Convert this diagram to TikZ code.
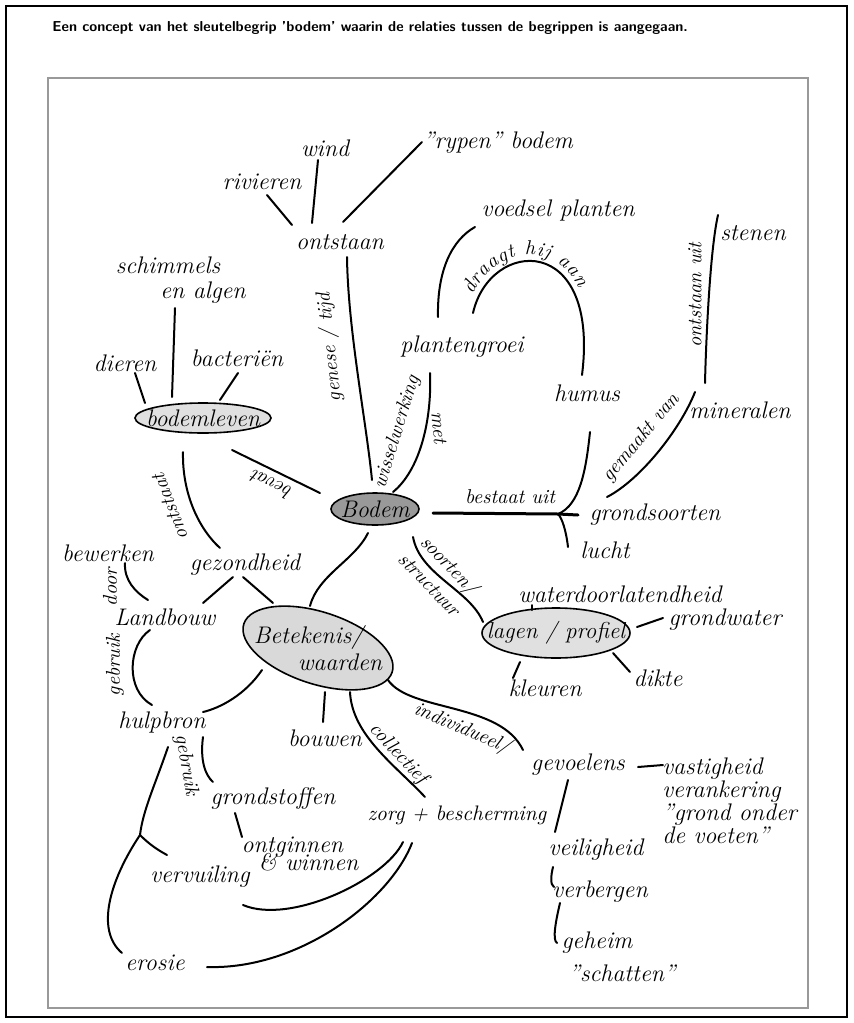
\documentclass[tikz,border=0pt]{standalone}
\usetikzlibrary{decorations.text}
\begin{document}
\begin{tikzpicture}[x=0.5pt,y=-0.5pt,
  w/.style={font=\fontsize{12}{11.5}\selectfont\itshape,inner sep=1pt},
  lbl/.style={font=\fontsize{10}{10}\selectfont\itshape,inner sep=0pt},
  bub/.style={line width=.8pt},
  con/.style={line width=1pt,line cap=round}]
\useasboundingbox (0,0) rectangle (853,1023);
\draw[line width=.6pt] (6,6) rectangle (847,1017);
\draw[black!40,line width=1pt] (48,78) rectangle (808,1008);
\node[anchor=west,inner sep=0pt,font=\fontsize{7.2}{8}\selectfont\sffamily\bfseries] (title) at (52,28) {Een concept van het sleutelbegrip 'bodem' waarin de relaties tussen de begrippen is aangegaan.};

\filldraw[bub,fill=black!12] (203,418) ellipse [x radius=68,y radius=15];
\filldraw[bub,fill=black!40] (375,509) ellipse [x radius=44,y radius=16];
\filldraw[bub,fill=black!15,rotate around={-18:(318,648)}] (318,648) ellipse [x radius=78,y radius=36];
\filldraw[bub,fill=black!12] (556,633) ellipse [x radius=74,y radius=25];

\node[w] (rypen) at (498,143) {"rypen" bodem};
\node[w] (wind) at (325,148) {wind};
\node[w] (rivieren) at (262,182) {rivieren};
\node[w] (ontstaan) at (340,242) {ontstaan};
\node[w] (voedsel) at (558,210) {voedsel planten};
\node[w] (stenen) at (753,233) {stenen};
\node[w,align=center] (schimmels) at (168,280) {schimmels\\[1pt]\hspace*{35pt}en algen};
\node[w] (plantengroei) at (462,347) {plantengroei};
\node[w] (humus) at (587,393) {humus};
\node[w] (mineralen) at (740,410) {mineralen};
\node[w] (dieren) at (125,363) {dieren};
\node[w] (bacterien) at (237,358) {bacteriën};
\node[w] (bodemleven) at (203,418) {bodemleven};
\node[w] (Bodem) at (375,509) {Bodem};
\node[w] (grondsoorten) at (655,515) {grondsoorten};
\node[w] (lucht) at (605,550) {lucht};
\node[w] (gezondheid) at (245,565) {gezondheid};
\node[w] (bewerken) at (108,553) {bewerken};
\node[w] (Landbouw) at (165,617) {Landbouw};
\node[w,align=left] (Betekenis) at (318,648) {Betekenis/\\[2pt]\hspace*{22pt}waarden};
\node[w,font=\fontsize{11.5}{11.5}\selectfont\itshape] (lagen) at (556,633) {lagen / profiel};
\node[w] (water) at (620,594) {waterdoorlatendheid};
\node[w] (grondwater) at (725,620) {grondwater};
\node[w] (dikte) at (658,678) {dikte};
\node[w] (kleuren) at (545,688) {kleuren};
\node[w] (hulpbron) at (162,722) {hulpbron};
\node[w] (bouwen) at (325,738) {bouwen};
\node[w] (gevoelens) at (578,765) {gevoelens};
\node[w,align=left,anchor=north west] (vast) at (660,755) {vastigheid\\verankering\\"grond onder\\de voeten"};
\node[w,font=\fontsize{10.5}{11}\selectfont\itshape] (zorg) at (457,815) {zorg + bescherming};
\node[w] (grondstoffen) at (273,798) {grondstoffen};
\node[w,align=left] (ontginnen) at (300,854) {ontginnen\\[-2.5pt]\hspace*{8.5pt}\& winnen};
\node[w] (vervuiling) at (200,877) {vervuiling};
\node[w] (veiligheid) at (596,850) {veiligheid};
\node[w] (verbergen) at (600,892) {verbergen};
\node[w] (geheim) at (597,943) {geheim};
\node[w] (schatten) at (622,973) {"schatten"};
\node[w] (erosie) at (155,963) {erosie};

\node[lbl,rotate=96] (genese) at (330,347) {genese / tijd};
\node[lbl,rotate=73] (wissel) at (397,432) {wisselwerking};
\node[lbl,rotate=-85] (met) at (439,428) {met};
\node[lbl,rotate=154] (bevat) at (271,485) {bevat};
\node[lbl,rotate=111] (ontstaat) at (170,507) {ontstaat};
\node[lbl] (bestaat) at (510,497) {bestaat uit};
\node[lbl,rotate=50] (gemaakt) at (641,438) {gemaakt van};
\node[lbl,rotate=90] (ontstaanuit) at (695,295) {ontstaan uit};
\node[lbl,rotate=-46,align=center] (soorten) at (440,574) {soorten/\\[4pt]structuur};
\node[lbl,rotate=90] (door) at (110,587) {door};
\node[lbl,rotate=90] (gebruikA) at (115,665) {gebruik};
\node[lbl,rotate=-80] (gebruikB) at (186,765) {gebruik};
\node[lbl,rotate=-47] (collectief) at (398,754) {collectief};
\node[lbl,rotate=-23] (individueel) at (462,729) {individueel/};

\draw[con] ([shift={(5,13)}]rivieren.center) -- ([shift={(-48,-17)}]ontstaan.center);
\draw[con] ([shift={(-7,12)}]wind.center) -- ([shift={(-28,-19)}]ontstaan.center);
\draw[con] ([shift={(3,-20)}]ontstaan.center) -- ([shift={(-76,-1)}]rypen.center);
\draw[con] ([shift={(7,15)}]ontstaan.center) .. controls (348,330) and (366,420) .. ([shift={(-3,-29)}]Bodem.center);
\draw[con] ([shift={(-24,-30)}]plantengroei.center) .. controls (437,270) and (452,240) .. ([shift={(-83,17)}]voedsel.center);
\draw[con,postaction={decorate,decoration={text along path,raise=3pt,text align={left indent=8pt},text={|\fontsize{10}{10}\selectfont\itshape|draagt hij aan}}}] ([shift={(11,-34)}]plantengroei.center) .. controls (490,238) and (600,232) .. ([shift={(-5,-18)}]humus.center);
\draw[con] ([shift={(-35,-18)}]stenen.center) .. controls (710,250) and (706,340) .. ([shift={(-35,-27)}]mineralen.center);
\draw[con] ([shift={(-48,-18)}]grondsoorten.center) .. controls (640,480) and (680,430) .. ([shift={(-45,-18)}]mineralen.center);
\coordinate (fork) at (558,514);
\draw[line width=1.5pt,line cap=round] ([shift={(58,4)}]Bodem.center) -- (fork) -- ([shift={(-77,0)}]grondsoorten.center);
\draw[con] (fork) .. controls (580,505) and (586,470) .. ([shift={(3,39)}]humus.center);
\draw[con] (fork) .. controls (562,518) and (566,530) .. ([shift={(-37,-3)}]lucht.center);
\draw[con] ([shift={(18,-17)}]Bodem.center) .. controls (420,470) and (432,420) .. ([shift={(-32,26)}]plantengroei.center);
\draw[con] ([shift={(-55,-16)}]Bodem.center) -- ([shift={(29,32)}]bodemleven.center);
\draw[con] ([shift={(-20,34)}]bodemleven.center) .. controls (182,495) and (200,530) .. ([shift={(-25,-17)}]gezondheid.center);
\draw[con] ([shift={(10,10)}]dieren.center) -- ([shift={(-58,-15)}]bodemleven.center);
\draw[con] ([shift={(7,28)}]schimmels.center) -- ([shift={(-31,-21)}]bodemleven.center);
\draw[con] ([shift={(1,15)}]bacterien.center) -- ([shift={(17,-18)}]bodemleven.center);
\draw[con] ([shift={(-7,24)}]Bodem.center) .. controls (355,560) and (318,575) .. ([shift={(-8,-42)}]Betekenis.center);
\draw[con] ([shift={(-12,12)}]gezondheid.center) -- ([shift={(38,-14)}]Landbouw.center);
\draw[con] ([shift={(-2,12)}]gezondheid.center) -- ([shift={(-45,-45)}]Betekenis.center);
\draw[con] ([shift={(17,10)}]bewerken.center) .. controls (124,580) and (135,592) .. ([shift={(-17,-17)}]Landbouw.center);
\draw[con] ([shift={(-15,13)}]Landbouw.center) .. controls (128,645) and (125,690) .. ([shift={(-10,-17)}]hulpbron.center);
\draw[con] ([shift={(-56,22)}]Betekenis.center) .. controls (245,695) and (220,708) .. ([shift={(41,-10)}]hulpbron.center);
\draw[con] ([shift={(7,44)}]Betekenis.center) -- ([shift={(-2,-16)}]bouwen.center);
\draw[con] ([shift={(32,44)}]Betekenis.center) .. controls (352,735) and (395,765) .. ([shift={(-32,-18)}]zorg.center);
\draw[con] ([shift={(70,32)}]Betekenis.center) .. controls (410,712) and (500,702) .. ([shift={(-55,-15)}]gevoelens.center);
\draw[con] ([shift={(38,28)}]Bodem.center) .. controls (420,575) and (470,590) .. ([shift={(-73,-11)}]lagen.center);
\draw[con] ([shift={(-88,11)}]water.center) -- ([shift={(-24,-23)}]lagen.center);
\draw[con] ([shift={(81,-6)}]lagen.center) -- ([shift={(-62,-2)}]grondwater.center);
\draw[con] ([shift={(57,20)}]lagen.center) -- ([shift={(-28,-6)}]dikte.center);
\draw[con] ([shift={(-36,29)}]lagen.center) -- ([shift={(-32,-10)}]kleuren.center);
\draw[con] ([shift={(41,15)}]hulpbron.center) .. controls (200,760) and (205,775) .. ([shift={(-60,-16)}]grondstoffen.center);
\draw[con] ([shift={(-38,15)}]grondstoffen.center) -- ([shift={(-58,-17)}]ontginnen.center);
\coordinate (hfork) at (140,835);
\draw[con] ([shift={(6,25)}]hulpbron.center) .. controls (155,785) and (143,810) .. (hfork);
\draw[con] (hfork) .. controls (150,845) and (158,850) .. ([shift={(-33,-22)}]vervuiling.center);
\draw[con] (hfork) .. controls (110,880) and (95,930) .. ([shift={(-33,-10)}]erosie.center);
\draw[con] ([shift={(-54,27)}]zorg.center) .. controls (385,880) and (290,925) .. ([shift={(43,28)}]vervuiling.center);
\draw[con] ([shift={(-45,28)}]zorg.center) .. controls (390,900) and (300,970) .. ([shift={(52,4)}]erosie.center);
\draw[con] ([shift={(60,2)}]gevoelens.center) -- ([shift={(3,10)}]vast.north west);
\draw[con] ([shift={(-10,15)}]gevoelens.center) -- ([shift={(-41,-18)}]veiligheid.center);
\draw[con] ([shift={(-43,17)}]veiligheid.center) .. controls (551,875) and (550,885) .. ([shift={(-46,-5)}]verbergen.center);
\draw[con] ([shift={(-40,11)}]verbergen.center) .. controls (556,920) and (552,940) .. ([shift={(-40,0)}]geheim.center);
\end{tikzpicture}
\end{document}
